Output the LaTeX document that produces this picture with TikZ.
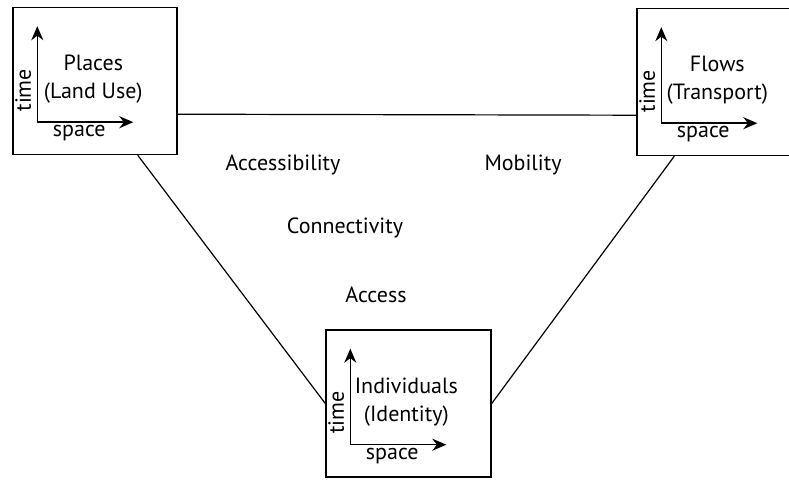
\documentclass[tikz,border=0pt]{standalone}
\usepackage{fontspec}
\setmainfont{PT Sans}
\usetikzlibrary{calc, arrows.meta}

\begin{document}
\begin{tikzpicture}[x=1pt, y=-1pt, font=\fontsize{22}{28}\selectfont,
		box/.style = {draw, line width=1.4pt, minimum width=#1, minimum height=147pt},
		link/.style = {line width=1.2pt}]
		\def\dx{25};
		\def\dy{33};
		\def\len{96};
		
		\useasboundingbox (0,0) rectangle (789,479);
		\clip (0,0) rectangle (789,479);
		
		\node [box=164pt] (lbox) at (95,81) {};
		\node [box=158pt] (rbox) at (716,82) {};
		\node [box=165pt] (bbox) at (408.5,403.5) {};
		
		\foreach \b/\txt in {lbox/{Places\\(Land Use)}, rbox/{Flows\\(Transport)}, bbox/{Individuals\\(Identity)}} {
			\coordinate (\b-o) at ($(\b.south west)+(\dx,-\dy)$);
			\begin{scope}[line width=1.5pt, -{Stealth[length=14pt, width=12pt]}]
			\draw (\b-o) -- ++(0,-\len);
			\draw (\b-o) -- ++(\len,0);
			\end{scope}
			\node [rotate=90] (\b-time) at ($(\b-o)+(-14,-32)$) {time};
			\node (\b-space) at ($(\b-o)+(42,11)$) {space};
			\node [align=center] (\b-name) at ($(\b-o)+(56,-43)$) {\txt};
		}
		
		\draw [link] ($(lbox.south east)+(0,-41)$) -- ($(rbox.south west)+(0,-41)$);
		\draw [link] ($(lbox.south east)+(-40,0)$) -- (bbox.west);
		\draw [link] ($(rbox.south west)+(38,0)$) -- (bbox.east);
		
		\node (access1) at (283,165) {Accessibility};
		\node (mob) at (523,165) {Mobility};
		\node (conn) at (345,228) {Connectivity};
		\node (access2) at (376,295) {Access};
	\end{tikzpicture}
\end{document}
